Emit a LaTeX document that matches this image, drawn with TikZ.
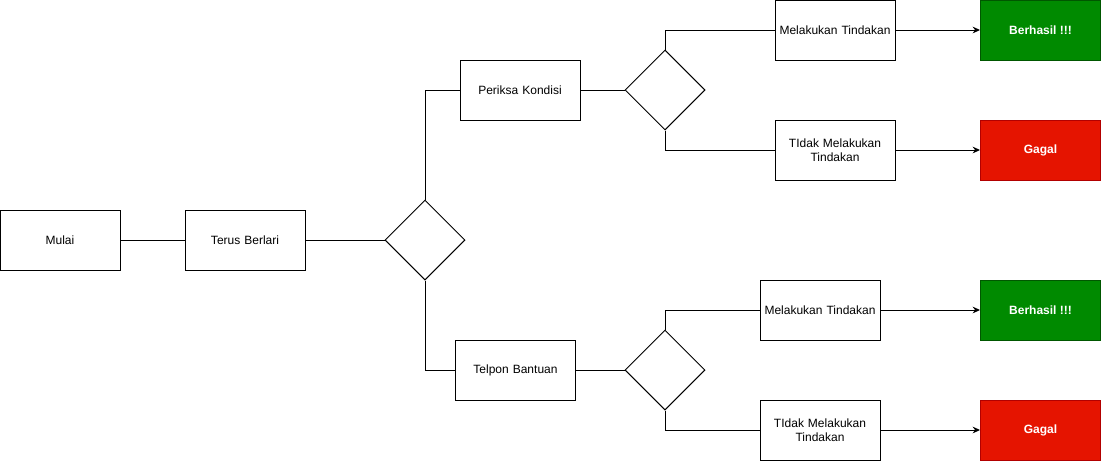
\documentclass[tikz,border=0pt]{standalone}
\usepackage{fontspec}
\setmainfont{Liberation Sans}
\usetikzlibrary{shapes.geometric,arrows.meta}

\definecolor{hijau}{HTML}{008A00}
\definecolor{hijaugaris}{HTML}{005700}
\definecolor{merah}{HTML}{E51400}
\definecolor{merahgaris}{HTML}{B20000}

\begin{document}
\begin{tikzpicture}[
            x=0.75pt, y=-0.75pt,
            line width=0.75pt,
            every node/.style={align=center, font=\fontsize{9pt}{10.5pt}\selectfont}
        ]

        % Define styles for nodes
        \tikzset{
            langkah/.style={rectangle, draw=black, fill=white, line width=0.75pt, minimum width=90pt, minimum height=45pt, inner sep=0pt, text width=88pt, align=center},
            cabang/.style={diamond, draw=black, fill=white, line width=0.75pt, minimum width=60pt, minimum height=60pt, inner sep=0pt, aspect=1},
            berhasil/.style={rectangle, draw=hijaugaris, fill=hijau, text=white, font=\fontsize{9pt}{10.5pt}\selectfont\bfseries, minimum width=90pt, minimum height=45pt, inner sep=0pt},
            gagal/.style={rectangle, draw=merahgaris, fill=merah, text=white, font=\fontsize{9pt}{10.5pt}\selectfont\bfseries, minimum width=90pt, minimum height=45pt, inner sep=0pt},
            panah/.style={-{Stealth[length=5.5pt, width=5pt]}}
        }

        \useasboundingbox (0,0) rectangle (1102,462);

        % Start
        \node[langkah] (mulai) at (60,240) {Mulai};
        \node[langkah] (terus) at (245,240) {Terus Berlari};
        \node[cabang] (cek) at (425,240) {};

        % Upper branch
        \node[langkah] (periksa) at (520,90) {Periksa Kondisi};
        \node[cabang] (cekAtas) at (665,90) {};
        \node[langkah] (lakuAtas) at (835,30) {Melakukan Tindakan};
        \node[langkah] (tidakAtas) at (835,150) {TIdak Melakukan\\Tindakan};
        \node[berhasil] (hasilAtas) at (1040.5,30) {Berhasil !!!};
        \node[gagal] (gagalAtas) at (1040.5,150) {Gagal};

        % Lower branch
        \node[langkah] (telpon) at (515.5,370) {Telpon Bantuan};
        \node[cabang] (cekBawah) at (665,370) {};
        \node[langkah] (lakuBawah) at (820,310) {Melakukan Tindakan};
        \node[langkah] (tidakBawah) at (820,430) {TIdak Melakukan\\Tindakan};
        \node[berhasil] (hasilBawah) at (1040.5,310) {Berhasil !!!};
        \node[gagal] (gagalBawah) at (1040.5,430) {Gagal};

        % Connectors
        \draw (mulai) -- (terus);
        \draw (terus) -- (cek);
        \draw (cek.north) |- (periksa);
        \draw (cek.south) |- (telpon);

        \draw (periksa) -- (cekAtas);
        \draw (cekAtas.north) |- (lakuAtas);
        \draw (cekAtas.south) |- (tidakAtas);
        \draw[panah] (lakuAtas) -- (hasilAtas);
        \draw[panah] (tidakAtas) -- (gagalAtas);

        \draw (telpon) -- (cekBawah);
        \draw (cekBawah.north) |- (lakuBawah);
        \draw (cekBawah.south) |- (tidakBawah);
        \draw[panah] (lakuBawah) -- (hasilBawah);
        \draw[panah] (tidakBawah) -- (gagalBawah);

\end{tikzpicture}
\end{document}
